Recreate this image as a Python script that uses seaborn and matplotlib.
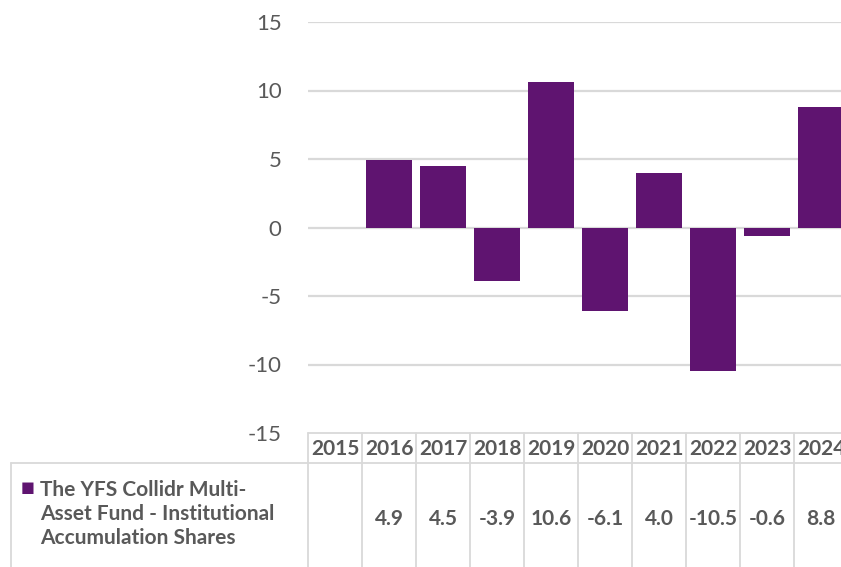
import numpy as np
import pandas as pd
import matplotlib
matplotlib.use('Agg')
import matplotlib.pyplot as plt
import matplotlib.transforms as mtransforms
from matplotlib.lines import Line2D
import seaborn as sns

years = ['2015', '2016', '2017', '2018', '2019', '2020', '2021', '2022', '2023', '2024']
returns = [np.nan, 4.9, 4.5, -3.9, 10.6, -6.1, 4.0, -10.5, -0.6, 8.8]
series_name = 'The YFS Collidr Multi-\nAsset Fund - Institutional\nAccumulation Shares'
yticks = [-15, -10, -5, 0, 5, 10, 15]

purple = '#5f1470'
grid_col = '#d9d9d9'
text_col = '#595959'

sns.set_theme(style='white')
plt.rcParams['font.family'] = ['Lato', 'DejaVu Sans']

W, H = 841, 567
fig = plt.figure(figsize=(W / 100, H / 100), dpi=100)
# plot area: left edge at 308px, 10 columns of 54px (last one runs off the picture)
ax = fig.add_axes([308 / W, 134 / H, 540 / W, 411 / H])

df = pd.DataFrame({'year': years, 'ret': returns})
sns.barplot(data=df, x='year', y='ret', order=years, color=purple,
            saturation=1, width=0.84, linewidth=0, ax=ax)

ax.set_xlim(-0.5, len(years) - 0.5)
ax.set_ylim(-15, 15)
ax.set_yticks(yticks)
ax.set_yticklabels([str(t) for t in yticks])
ax.tick_params(axis='y', length=0, pad=19, labelsize=16, labelcolor=text_col)
ax.set_xticks([])
ax.set_xlabel('')
ax.set_ylabel('')
for s in ax.spines.values():
    s.set_visible(False)
for t in yticks[1:]:
    ax.axhline(t, color=grid_col, lw=1.6, zorder=0)

# data table under the plot
tr = mtransforms.blended_transform_factory(ax.transData, ax.transAxes)
for i, (yr, v) in enumerate(zip(years, returns)):
    ax.text(i, -16 / 411, yr, transform=tr, ha='center', va='center',
            fontsize=15, fontweight='bold', color=text_col)
    if not np.isnan(v):
        ax.text(i, -86 / 411, f'{v:.1f}', transform=tr, ha='center', va='center',
                fontsize=15, fontweight='bold', color=text_col)

line_kw = dict(color=grid_col, lw=1.3, clip_on=False)
for i in range(len(years) + 1):
    ax.add_line(Line2D([i - 0.5, i - 0.5], [0, -0.5], transform=tr, **line_kw))
ax.add_line(Line2D([-0.5, len(years) - 0.5], [0, 0], transform=tr, **line_kw))
fig.add_artist(Line2D([11 / W, 1.02], [1 - 463 / H, 1 - 463 / H], color=grid_col, lw=1.3))
fig.add_artist(Line2D([11 / W, 11 / W], [1 - 463 / H, -0.05], color=grid_col, lw=1.3))

# series label with legend key
fig.text(21 / W, 1 - 487 / H, '\u25a0', ha='left', va='center', fontsize=10.5,
         color=purple, family=['DejaVu Sans'])
fig.text(40 / W, 1 - 514 / H, series_name, ha='left', va='center',
         fontsize=15, fontweight='bold', color=text_col, linespacing=1.25)

fig.savefig('out.png', dpi=100)
